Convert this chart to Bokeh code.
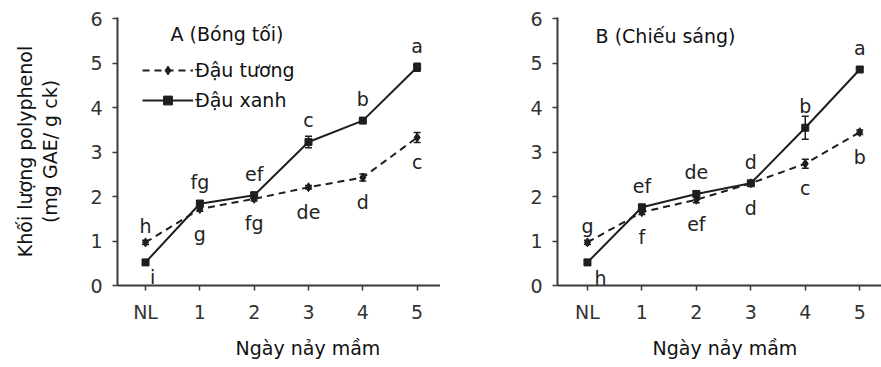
from bokeh.plotting import figure
from bokeh.models import (Whisker, ColumnDataSource, Legend, LegendItem, Label,
                          Title, FixedTicker, TeeHead, Range1d)
from bokeh.layouts import row
from bokeh.embed import file_html
from bokeh.resources import INLINE
from bokeh.core.properties import value

# ---------------- data ----------------
days = [0, 1, 2, 3, 4, 5]
day_labels = ["NL", "1", "2", "3", "4", "5"]

# Panel A (Bóng tối)
a_soy = [0.97, 1.72, 1.95, 2.21, 2.43, 3.33]
a_soy_err = [0.05, 0.05, 0.05, 0.04, 0.08, 0.11]
a_mung = [0.52, 1.84, 2.03, 3.23, 3.71, 4.91]
a_mung_err = [0.05, 0.07, 0.07, 0.13, 0.04, 0.09]
a_soy_letters = ["h", "g", "fg", "de", "d", "c"]
a_mung_letters = ["i", "fg", "ef", "c", "b", "a"]

# Panel B (Chiếu sáng)
b_soy = [0.97, 1.65, 1.93, 2.30, 2.74, 3.45]
b_soy_err = [0.05, 0.05, 0.07, 0.04, 0.10, 0.05]
b_mung = [0.52, 1.76, 2.06, 2.30, 3.55, 4.86]
b_mung_err = [0.05, 0.05, 0.07, 0.05, 0.26, 0.05]
b_soy_letters = ["g", "f", "ef", "d", "c", "b"]
b_mung_letters = ["h", "ef", "de", "d", "b", "a"]

FONT = "DejaVu Sans"
FONT_V = value(FONT)
FS = "19px"
INK = "#1e1e1e"
AXC = "#3a3a3a"


def make_panel(width, x_range, soy, soy_err, mung, mung_err, soy_letters,
               mung_letters, title, title_x, title_y, ylabel, xlabel_offset,
               nl_dx, nl_dy, legend):
    p = figure(width=width, height=367, output_backend="svg",
               toolbar_location=None, x_range=Range1d(*x_range),
               y_range=Range1d(0, 6.03), min_border_left=117,
               min_border_right=0, min_border_top=17, min_border_bottom=82)
    p.outline_line_color = None
    p.grid.grid_line_color = None
    p.background_fill_color = "white"
    p.border_fill_color = "white"

    for ax in (p.xaxis[0], p.yaxis[0]):
        ax.axis_line_color = AXC
        ax.axis_line_width = 2
        ax.major_tick_line_color = AXC
        ax.major_tick_line_width = 1.5
        ax.major_tick_in = 0
        ax.major_tick_out = 5
        ax.minor_tick_line_color = None
        ax.major_label_text_font = FONT
        ax.major_label_text_font_size = FS
        ax.major_label_text_color = "#333333"

    p.xaxis.ticker = FixedTicker(ticks=days)
    p.xaxis.major_label_overrides = {d: l for d, l in zip(days, day_labels)}
    p.xaxis.major_label_standoff = 10
    p.yaxis.ticker = FixedTicker(ticks=[0, 1, 2, 3, 4, 5, 6])
    p.yaxis.major_label_standoff = 10

    if ylabel:
        p.yaxis.axis_label = ylabel
        p.yaxis.axis_label_text_font = FONT
        p.yaxis.axis_label_text_font_size = FS
        p.yaxis.axis_label_text_font_style = "normal"
        p.yaxis.axis_label_text_color = "#111111"
        p.yaxis.axis_label_text_line_height = 1.15
        p.yaxis.axis_label_standoff = 26

    p.add_layout(Title(text="Ngày nảy mầm", align="left", offset=xlabel_offset,
                       text_font=FONT, text_font_size=FS,
                       text_font_style="normal", text_color="#111111",
                       standoff=18), "below")

    # error bars
    for vals, errs in ((soy, soy_err), (mung, mung_err)):
        src = ColumnDataSource(dict(
            x=days, upper=[v + e for v, e in zip(vals, errs)],
            lower=[v - e for v, e in zip(vals, errs)]))
        w = Whisker(base="x", upper="upper", lower="lower", source=src,
                    line_color=INK, line_width=1.5,
                    upper_head=TeeHead(size=7, line_color=INK, line_width=1.5),
                    lower_head=TeeHead(size=7, line_color=INK, line_width=1.5))
        p.add_layout(w)

    soy_line = p.line(days, soy, line_color=INK, line_width=2,
                      line_dash="7 5")
    soy_pts = p.scatter(days, soy, marker="diamond", size=9, color=INK)
    mung_line = p.line(days, mung, line_color=INK, line_width=2)
    mung_pts = p.scatter(days, mung, marker="square", size=7, color=INK)

    # significance letters
    up_x, up_y, up_t, lo_x, lo_y, lo_t = [], [], [], [], [], []
    for i, d in enumerate(days):
        if soy[i] > mung[i]:
            hi, lo, hi_t, lo_t_ = soy[i], mung[i], soy_letters[i], mung_letters[i]
        else:
            hi, lo, hi_t, lo_t_ = mung[i], soy[i], mung_letters[i], soy_letters[i]
        up_x.append(d)
        up_y.append(hi + (0.36 if i == 0 else 0.49))
        up_t.append(hi_t)
        if i == 0:
            lo_x.append(d + nl_dx)
            lo_y.append(lo + nl_dy)
        else:
            lo_x.append(d)
            lo_y.append(lo - 0.55)
        lo_t.append(lo_t_)
    p.text(x=up_x + lo_x, y=up_y + lo_y, text=up_t + lo_t,
           text_font=FONT_V, text_font_size=FS, text_color="#222222",
           text_align="center", text_baseline="alphabetic")

    p.add_layout(Label(x=title_x, y=title_y, text=title, text_font=FONT,
                       text_font_size=FS, text_color="#111111",
                       text_baseline="alphabetic"))

    if legend:
        lg = Legend(items=[
            LegendItem(label="Đậu tương", renderers=[soy_line, soy_pts]),
            LegendItem(label="Đậu xanh", renderers=[mung_line, mung_pts]),
        ], location=(25, 174), glyph_width=51, glyph_height=22,
            label_height=22, spacing=8, padding=0, margin=0,
            label_standoff=2, border_line_alpha=0, background_fill_alpha=0,
            label_text_font=FONT, label_text_font_size=FS,
            label_text_color="#111111")
        p.add_layout(lg)
    return p


pa = make_panel(440, (-0.516, 5.43), a_soy, a_soy_err, a_mung, a_mung_err,
                a_soy_letters, a_mung_letters, "A (Bóng tối)", 0.46, 5.65,
                "Khối lượng polyphenol\n(mg GAE/ g ck)", 118, 0.13, -0.32, True)
pb = make_panel(441, (-0.55, 5.40), b_soy, b_soy_err, b_mung, b_mung_err,
                b_soy_letters, b_mung_letters, "B (Chiếu sáng)", 0.15, 5.61,
                None, 95, 0.24, -0.35, False)

layout = row(pa, pb)
open("out.html", "w").write(file_html(layout, INLINE))
